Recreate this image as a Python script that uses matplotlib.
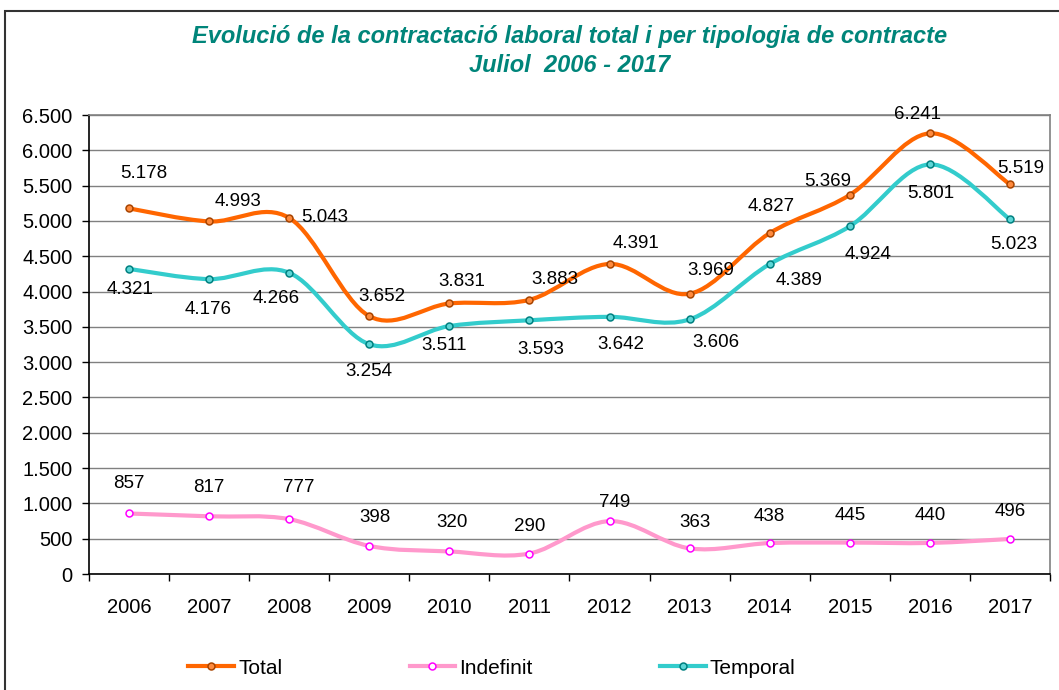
import numpy as np
import matplotlib
matplotlib.use("Agg")
import matplotlib.pyplot as plt
from matplotlib.path import Path
from matplotlib.patches import PathPatch, Rectangle
from matplotlib.lines import Line2D
from matplotlib.ticker import FuncFormatter, MultipleLocator, FixedLocator

plt.rcParams['font.family'] = ['Liberation Sans', 'DejaVu Sans']

years = ['2006', '2007', '2008', '2009', '2010', '2011',
         '2012', '2013', '2014', '2015', '2016', '2017']
total = [5178, 4993, 5043, 3652, 3831, 3883, 4391, 3969, 4827, 5369, 6241, 5519]
indefinit = [857, 817, 777, 398, 320, 290, 749, 363, 438, 445, 440, 496]
temporal = [4321, 4176, 4266, 3254, 3511, 3593, 3642, 3606, 4389, 4924, 5801, 5023]

# label offsets in pixels (dx right, dy down) as placed in the original
off_total = [(15, -35), (29, -20), (36, 0), (13, -20), (12, -22), (25, -20),
             (26, -20), (21, -23), (1, -27), (-22, -13), (-12, -19), (11, -16)]
off_temporal = [(1, 21), (-1, 30), (-13, 26), (0, 27), (-5, 19), (11, 29),
                (11, 28), (26, 23), (29, 16), (18, 28), (1, 29), (4, 25)]
off_indefinit = [(0, -30), (0, -29), (10, -32), (6, -28), (3, -29), (0, -27),
                 (5, -19), (5, -26), (0, -27), (0, -27), (0, -27), (0, -27)]


def fmt_thousands(v, pos=None):
    return f'{int(v):,}'.replace(',', '.')


def smooth_path(xs, ys):
    # excel-like smoothed line: cubic bezier through every point
    pts = np.column_stack([xs, ys]).astype(float)
    n = len(pts)
    verts = [pts[0]]
    codes = [Path.MOVETO]
    for i in range(n - 1):
        p0 = pts[i - 1] if i > 0 else pts[i]
        p1 = pts[i]
        p2 = pts[i + 1]
        p3 = pts[i + 2] if i + 2 < n else pts[i + 1]
        c1 = p1 + (p2 - p0) / 6.0
        c2 = p2 - (p3 - p1) / 6.0
        verts += [c1, c2, p2]
        codes += [Path.CURVE4] * 3
    return Path(verts, codes)


fig = plt.figure(figsize=(10.59, 6.90), dpi=100)
ax = fig.add_axes([0.0840, 0.1681, 0.9075, 0.6652])

# outer chart border
fig.patches.append(Rectangle((5 / 1059, -0.1), 1.2, 1 - 11 / 690 + 0.1,
                             transform=fig.transFigure, fill=False,
                             edgecolor='#333333', linewidth=1.5))

x = np.arange(len(years))
series = [
    ('Total', total, '#FF6600', '#FF8A3D', '#A84400', off_total),
    ('Indefinit', indefinit, '#FF99CC', 'white', '#FF00FF', off_indefinit),
    ('Temporal', temporal, '#33CCCC', '#5CD6D6', '#008080', off_temporal),
]

handles = []
for name, vals, col, mface, medge, offs in series:
    ax.add_patch(PathPatch(smooth_path(x, vals), facecolor='none', edgecolor=col,
                           linewidth=3, capstyle='round', zorder=3))
    ax.plot(x, vals, linestyle='none', marker='o', markersize=5,
            markerfacecolor=mface, markeredgecolor=medge, markeredgewidth=1.1, zorder=4)
    for xi, v, (dx, dy) in zip(x, vals, offs):
        ax.annotate(fmt_thousands(v), (xi, v), xytext=(dx * 0.72, -dy * 0.72),
                    textcoords='offset points', ha='center', va='center',
                    fontsize=13.5, color='black', zorder=5)
    handles.append(Line2D([], [], color=col, linewidth=3, marker='o', markersize=5,
                          markerfacecolor=mface, markeredgecolor=medge,
                          markeredgewidth=1.1))

ax.set_xlim(-0.5, len(years) - 0.5)
ax.set_ylim(0, 6500)
ax.yaxis.set_major_locator(MultipleLocator(500))
ax.yaxis.set_major_formatter(FuncFormatter(fmt_thousands))
ax.grid(axis='y', color='#808080', linewidth=1)
ax.set_axisbelow(True)

ax.set_xticks(x)
ax.set_xticklabels(years)
ax.xaxis.set_minor_locator(FixedLocator(np.arange(-0.5, len(years), 1.0)))
ax.tick_params(axis='x', which='major', length=0, pad=17, labelsize=14.5)
ax.tick_params(axis='x', which='minor', length=5, width=1, direction='out', color='black')
ax.tick_params(axis='y', length=5, width=1, direction='out', pad=7, labelsize=14.5)

for s in ['left', 'bottom']:
    ax.spines[s].set_color('black')
    ax.spines[s].set_linewidth(1.2)
for s in ['top', 'right']:
    ax.spines[s].set_color('#808080')
    ax.spines[s].set_linewidth(1.2)

fig.text(570 / 1059, 1 - 51 / 690,
         'Evolució de la contractació laboral total i per tipologia de contracte\nJuliol  2006 - 2017',
         ha='center', va='center', fontsize=17, fontweight='bold', fontstyle='italic',
         color='#00857A', linespacing=1.32)

fig.legend(handles, [s[0] for s in series], loc='center', ncol=3,
           bbox_to_anchor=(492 / 1059, 1 - 668 / 690), frameon=False,
           fontsize=15, handlelength=2.2, handletextpad=0.2, columnspacing=6.1,
           borderpad=0)

fig.savefig('out.png', dpi=100)
